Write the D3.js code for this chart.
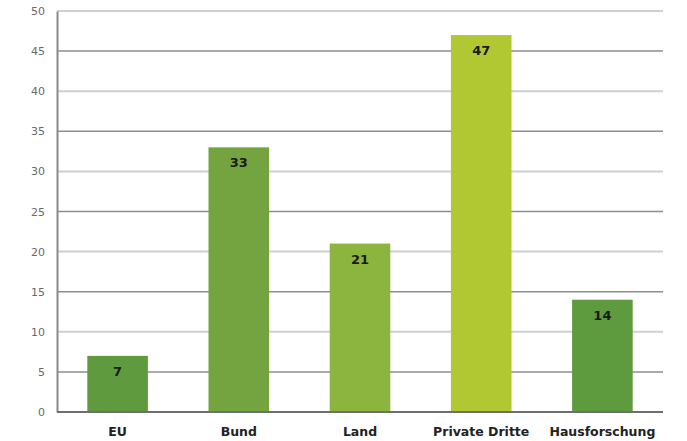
<!DOCTYPE html>
<html>
<head>
<meta charset="utf-8">
<script src="https://cdn.jsdelivr.net/npm/d3@7"></script>
<style>
  html, body { margin: 0; padding: 0; background: #fff; }
  svg { display: block; }
</style>
</head>
<body>
<svg id="chart" width="687" height="441"></svg>
<script>
// Funding sources and their counts
const categories = ["EU", "Bund", "Land", "Private Dritte", "Hausforschung"];
const values = [7, 33, 21, 47, 14];
const barColors = ["#5f9a3e", "#74a43f", "#8bb53e", "#b1c833", "#5e9a3e"];
const yTicks = [0, 5, 10, 15, 20, 25, 30, 35, 40, 45, 50];

const svg = d3.select("#chart");
const margin = { left: 57, right: 24, top: 11, bottom: 29 };
const width = 687, height = 441;
const font = "DejaVu Sans, Verdana, sans-serif";

const x = d3.scaleBand()
  .domain(categories)
  .range([margin.left, width - margin.right])
  .paddingInner(0.5)
  .paddingOuter(0.25);

const y = d3.scaleLinear()
  .domain([0, 50])
  .range([height - margin.bottom, margin.top]);

// Horizontal gridlines: alternating darker and lighter grey
svg.append("g")
  .selectAll("line")
  .data(yTicks.filter(d => d > 0))
  .join("line")
  .attr("x1", margin.left)
  .attr("x2", width - margin.right)
  .attr("y1", d => y(d))
  .attr("y2", d => y(d))
  .attr("stroke", d => (d % 10 === 0) ? "#cfcfcf" : "#8e8e8e")
  .attr("stroke-width", d => (d % 10 === 0) ? 2 : 1.5);

// Bars
svg.append("g")
  .selectAll("rect")
  .data(values)
  .join("rect")
  .attr("x", (d, i) => x(categories[i]))
  .attr("y", d => y(d))
  .attr("width", x.bandwidth())
  .attr("height", d => y(0) - y(d))
  .attr("fill", (d, i) => barColors[i]);

// Value labels inside the bars
svg.append("g")
  .selectAll("text")
  .data(values)
  .join("text")
  .attr("x", (d, i) => x(categories[i]) + x.bandwidth() / 2)
  .attr("y", d => y(d) + 20)
  .attr("text-anchor", "middle")
  .attr("font-family", font)
  .attr("font-weight", "bold")
  .attr("font-size", 13)
  .attr("fill", "#1a1a1a")
  .text(d => d);

// Y axis
const yAxis = d3.axisLeft(y).tickValues(yTicks).tickSize(0).tickPadding(12);
const gy = svg.append("g")
  .attr("transform", `translate(${margin.left},0)`)
  .call(yAxis);
gy.select(".domain").attr("stroke", "#8a8a8a").attr("stroke-width", 2);
gy.selectAll("text")
  .attr("font-family", font)
  .attr("font-size", 11)
  .attr("fill", "#6a6a6a");

// X axis
const xAxis = d3.axisBottom(x).tickSize(0).tickPadding(15);
const gx = svg.append("g")
  .attr("transform", `translate(0,${y(0)})`)
  .call(xAxis);
gx.select(".domain")
  .attr("d", `M${margin.left},0H${width - margin.right}`)
  .attr("stroke", "#6e6e6e")
  .attr("stroke-width", 2);
gx.selectAll("text")
  .attr("font-family", font)
  .attr("font-weight", "bold")
  .attr("font-size", 12.5)
  .attr("fill", "#222");
</script>
</body>
</html>
